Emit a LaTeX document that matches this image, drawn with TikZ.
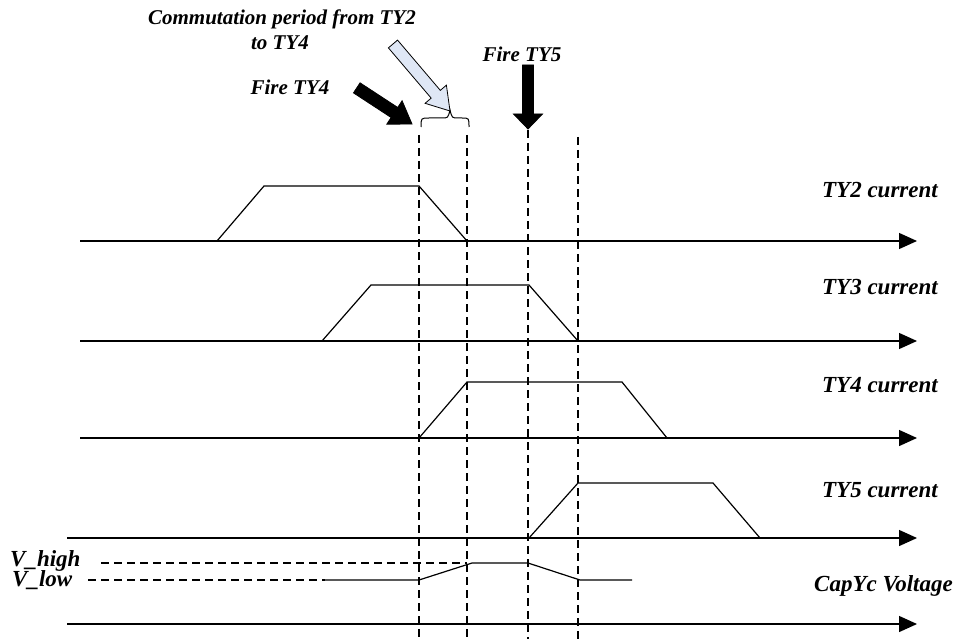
\documentclass[tikz,border=0pt]{standalone}
\usepackage{fontspec}
\setmainfont{Liberation Serif}
\usetikzlibrary{arrows.meta}
\definecolor{lightarrow}{HTML}{DFE7F5}
\newcommand\myblockarrow[8]{%
  \begin{scope}[shift={(#1,#2)},rotate=#3]
    \filldraw[#8,line width=0.8pt,line join=miter]
      (0,0) -- (-#7,#6) -- (-#7,#5) -- (-#4,#5) -- (-#4,-#5) -- (-#7,-#5) -- (-#7,-#6) -- cycle;
  \end{scope}}
\tikzset{
  axis/.style={line width=1.3pt,-{Triangle[length=18pt,width=16pt]}},
  wave/.style={line width=1.2pt,line join=miter},
  guide/.style={line width=1.2pt,dash pattern=on 8pt off 5pt},
  lab/.style={font=\fontsize{23}{26}\selectfont\bfseries\itshape,inner sep=0pt},
  toplab/.style={font=\fontsize{21}{25}\selectfont\bfseries\itshape,inner sep=0pt},
}
\begin{document}
\begin{tikzpicture}[x=1pt,y=-1pt]
\useasboundingbox (0,0) rectangle (957,639);
% axes
\foreach \n/\x/\y in {a/80/241,b/80/341,c/80/438,d/67/538,e/67/624}{
  \coordinate (\n0) at (\x,\y);
  \coordinate (\n1) at (917,\y);
  \draw[axis] (\n0) -- (\n1);
}
% guides
\coordinate (g1t) at (419,135); \coordinate (g1b) at (419,639);
\coordinate (g2t) at (467,135); \coordinate (g2b) at (467,639);
\coordinate (g3t) at (528,130); \coordinate (g3b) at (528,639);
\coordinate (g4t) at (578,137); \coordinate (g4b) at (578,639);
\foreach \g in {g1,g2,g3,g4}{\draw[guide] (\g t) -- (\g b);}
% waveforms
\draw[wave] (217,241) -- (264,186) -- (419,186) -- (467,241);
\draw[wave] (322,341) -- (371,285) -- (529,285) -- (578,341);
\draw[wave] (419,438) -- (467,382) -- (622,382) -- (667,438);
\draw[wave] (529,538) -- (578,483) -- (713,483) -- (760,538);
% CapYc voltage
\draw[guide] (101,563) -- (467,563);
\draw[guide] (88,580) -- (325,580);
\draw[wave] (325,580) -- (419,580) -- (472,563) -- (528,563) -- (580,580) -- (632,580);
% brace
\draw[line width=1pt] (421,127) .. controls (421,118) .. (429,118) -- (442,118)
  .. controls (448,118) .. (450,110) .. controls (452,118) .. (458,118) -- (462,118)
  .. controls (469,118) .. (469,127);
% block arrows
\myblockarrow{412}{124}{-33.2}{66}{6}{14}{21}{fill=black,draw=black}
\myblockarrow{450}{111}{-49.6}{88}{6}{14}{22}{fill=lightarrow,draw=black}
\myblockarrow{528}{129}{-90}{64}{5.5}{14.5}{15}{fill=black,draw=black}
% labels
\node[toplab,anchor=base] (comm) at (282,25) {Commutation period from TY2};
\node[toplab,anchor=base] (comm2) at (280,50) {to TY4};
\node[toplab,anchor=base] (f4) at (290,95) {Fire TY4};
\node[toplab,anchor=base] (f5) at (522,62) {Fire TY5};
\node[lab,anchor=base east] (l2) at (938,197) {TY2 current};
\node[lab,anchor=base east] (l3) at (938,294) {TY3 current};
\node[lab,anchor=base east] (l4) at (938,392) {TY4 current};
\node[lab,anchor=base east] (l5) at (938,497) {TY5 current};
\node[lab,anchor=base east] (l6) at (953,591) {CapYc Voltage};
\node[lab,anchor=base west] (vh) at (10,566) {V\_high};
\node[lab,anchor=base west] (vl) at (12,586) {V\_low};
\end{tikzpicture}
\end{document}
